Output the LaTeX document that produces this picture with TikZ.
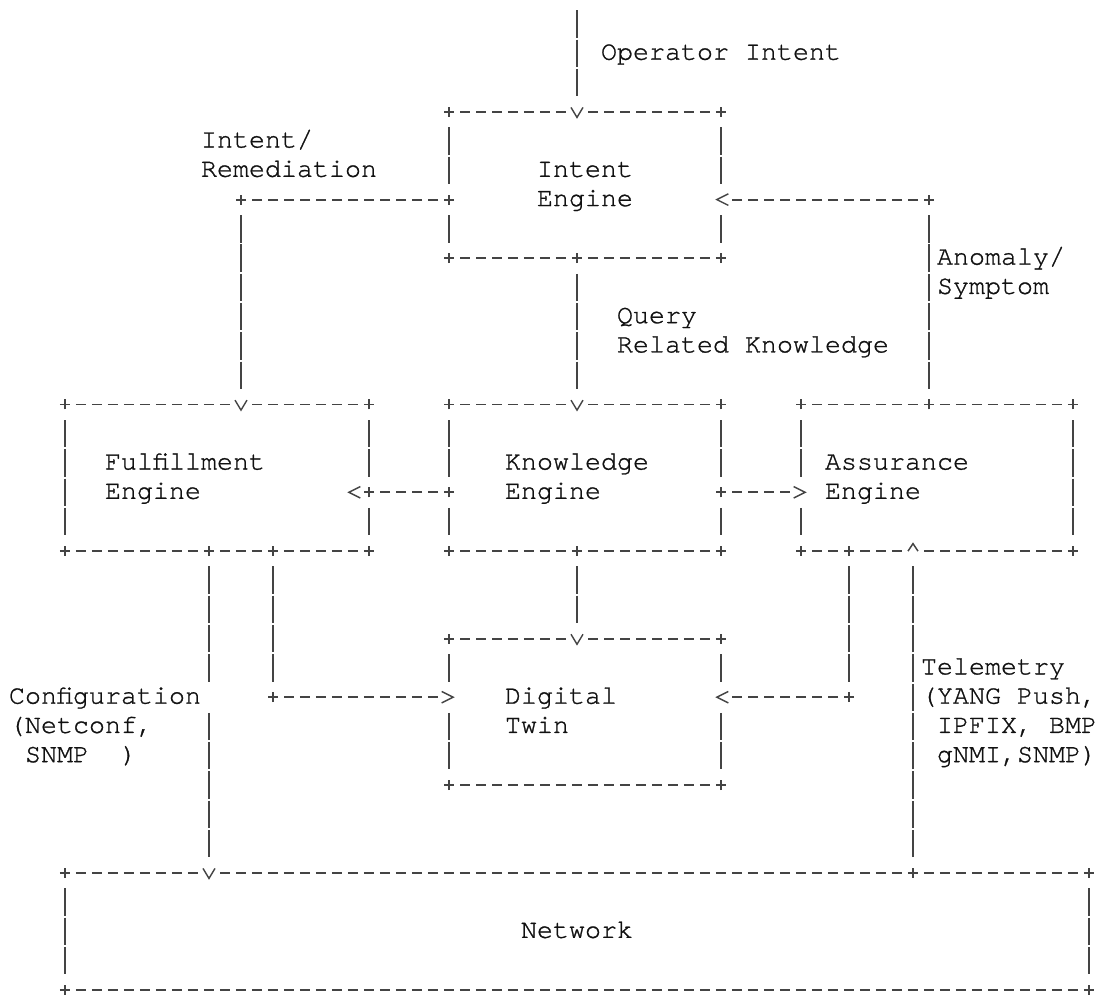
\documentclass[tikz,border=0pt]{standalone}
\usepackage{fontspec}
\newfontfamily\cursorfont{texgyrecursor-regular.otf}[FakeBold=1]
\usetikzlibrary{arrows.meta, calc, decorations.markings}
\setlength{\parindent}{0pt}

\definecolor{ink}{HTML}{444444}
\definecolor{txt}{HTML}{111111}
\newcommand{\diafont}{\cursorfont\fontsize{15.175pt}{16.655pt}\selectfont\frenchspacing}
\newcommand{\rs}{\rule[-4.6pt]{0pt}{16.6pt}}
\newlength{\cellw}
\setlength{\cellw}{0.32cm}

\tikzset{
  every node/.style={font=\diafont, text=txt, inner sep=0pt, outer sep=0pt},
  engine/.style={minimum height=5*0.5854cm, align=left},
  lbl/.style={anchor=north west, align=left},
  junct/.pic={\draw[ink] (0,-0.1cm) -- (0,0.1cm);},
  hseg/.style={draw=ink, dash pattern=on 0.2cm off 0.12cm},
  hrun/.style={hseg, shorten <=-0.1cm, shorten >=-0.1cm},
  vrun/.style={draw=ink, dash pattern=on 0.546cm off 0.0394cm,
    shorten <=0.3124cm, shorten >=0.3124cm},
  tiph/.style={postaction={decorate, solid, decoration={markings,
    mark=at position 0.99999 with {\pgftransformxshift{#1}
      \arrow{Straight Barb[length=0.23cm, width=0.23cm, line width=0.8pt]}}}}},
  tiph/.default=0.115cm,
  tipv/.style={postaction={decorate, solid, decoration={markings,
    mark=at position 0.99999 with {\pgftransformxshift{0.14cm}
      \arrow{Straight Barb[length=0.2cm, width=0.24cm, line width=0.8pt]}}}}},
  tipu/.style={postaction={decorate, solid, decoration={markings,
    mark=at position 0.99999 with {\pgftransformxshift{0.17cm}
      \arrow{Straight Barb[length=0.15cm, width=0.2cm, line width=0.8pt]}}}}},
  harr/.style={hrun, shorten >=0.22cm, tiph},
  varr/.style={vrun, tipv},
  uarr/.style={vrun, tipu},
}

\begin{document}
\begin{tikzpicture}[x=0.32cm, y=-0.5854cm, line width=1.1pt]
\useasboundingbox[fill=white] (-1.0625,-0.82) rectangle (67.6875,33.243);

% ENGINES
\node[engine, minimum width=17\cellw, text width=6\cellw, inner xsep=5.5\cellw]
  (intent) at (35.5,5.5) {\rs Intent\\\rs Engine};
\node[engine, minimum width=19\cellw, text width=14\cellw, inner xsep=2.5\cellw]
  (fulfil) at (12.5,15.5) {\rs Fulfillment\\\rs Engine};
\node[engine, minimum width=17\cellw, text width=10\cellw, inner xsep=3.5\cellw]
  (know) at (35.5,15.5) {\rs Knowledge\\\rs Engine};
\node[engine, minimum width=17\cellw, text width=14\cellw, inner xsep=1.5\cellw]
  (assure) at (57.5,15.5) {\rs Assurance\\\rs Engine};
\node[engine, minimum width=17\cellw, text width=10\cellw, inner xsep=3.5\cellw]
  (twin) at (35.5,23.5) {\rs Digital\\\rs Twin};
\node[engine, minimum height=4*0.5854cm, minimum width=64\cellw, text width=7\cellw,
  inner xsep=28.5\cellw] (network) at (35,31) {\rs Network};

% LABELS
\node[lbl] (opintent) at (36.5,0.5) {\rs Operator Intent};
\node[lbl] (remed) at (11.5,3.5) {\rs Intent/\\\rs Remediation};
\node[lbl] (anomaly) at (57.5,7.5) {\rs Anomaly/\\\rs Symptom};
\node[lbl] (query) at (37.5,9.5) {\rs Query\\\rs Related Knowledge};
\node[lbl] (config) at (-0.5,22.5) {\rs Configuration};
\node[lbl] (proto) at (-0.5,23.5) {\rs (Netconf,\\\rs\hspace*{\cellw}SNMP\ \ )};
\node[lbl] (telemetry) at (56.5,21.5)
  {\rs Telemetry\\\rs (YANG Push,\\\rs\hspace*{\cellw}IPFIX, BMP\\\rs\hspace*{\cellw}gNMI,SNMP)};

% helper coordinates
\coordinate (intentV) at ($(intent.north)+(-0.5,0)$);
\coordinate (intentB) at ($(intent.south)+(-0.5,0)$);
\coordinate (intentL) at ($(intent.west)+(0,0.5)$);
\coordinate (intentR) at ($(intent.east)+(0,0.5)$);
\coordinate (fulfilV) at ($(fulfil.north)+(1.5,0)$);
\coordinate (fulfilR) at ($(fulfil.east)+(0,0.5)$);
\coordinate (fulfilB) at ($(fulfil.south)+(-0.5,0)$);
\coordinate (fulfilC) at ($(fulfil.south)+(3.5,0)$);
\coordinate (knowV) at ($(know.north)+(-0.5,0)$);
\coordinate (knowB) at ($(know.south)+(-0.5,0)$);
\coordinate (knowL) at ($(know.west)+(0,0.5)$);
\coordinate (knowR) at ($(know.east)+(0,0.5)$);
\coordinate (assureT) at ($(assure.north)+(-0.5,0)$);
\coordinate (assureL) at ($(assure.west)+(0,0.5)$);
\coordinate (assureA) at ($(assure.south)+(-1.5,0)$);
\coordinate (assureB) at ($(assure.south)+(-5.5,0)$);
\coordinate (twinV) at ($(twin.north)+(-0.5,0)$);
\coordinate (twinL) at ($(twin.west)+(0,-0.5)$);
\coordinate (twinR) at ($(twin.east)+(0,-0.5)$);
\coordinate (networkV) at ($(network.north)+(-23,0)$);
\coordinate (networkT) at ($(network.north)+(21,0)$);
\coordinate (opin) at (35,-1);

% FRAMES
\foreach \b in {intent,fulfil,know,twin,network}
  \draw[hrun] (\b.south west) -- (\b.south east);
\draw[hrun] (assure.north west) -- (assure.north east);
\foreach \b/\t in {intent/intentV,fulfil/fulfilV,know/knowV,twin/twinV,network/networkV} {
  \draw[hrun, shorten >=0.22cm] (\b.north west) -- (\t);
  \draw[hrun, shorten <=0.22cm] (\t) -- (\b.north east);
}
\draw[hrun, shorten >=0.22cm] (assure.south west) -- (assureA);
\draw[hrun, shorten <=0.22cm] (assureA) -- (assure.south east);
\foreach \p/\q in {intent.north west/intentL, intentL/intent.south west,
    intent.north east/intentR, intentR/intent.south east,
    fulfil.north west/fulfil.south west, fulfil.north east/fulfilR, fulfilR/fulfil.south east,
    know.north west/knowL, knowL/know.south west, know.north east/knowR, knowR/know.south east,
    assure.north west/assureL, assureL/assure.south west, assure.north east/assure.south east,
    twin.north west/twinL, twinL/twin.south west, twin.north east/twinR, twinR/twin.south east,
    network.north west/network.south west, network.north east/network.south east}
  \draw[vrun] (\p) -- (\q);
\foreach \b in {intent,fulfil,know,assure,twin,network}
  \foreach \a in {north west,north east,south west,south east}
    \pic at (\b.\a) {junct};

% CONNECTORS
\draw[varr] (opin) -- (intentV);
\draw[hrun] (intentL) -- (intentL -| fulfilV) coordinate (c1);
\draw[varr] (c1) -- (fulfilV);
\draw[varr] (intentB) -- (knowV);
\draw[vrun] (assureT) -- (assureT |- intentR) coordinate (c2);
\draw[harr] (c2) -- (intentR);
\draw[hrun, tiph=0.435cm] (knowL) -- (fulfilR);
\draw[harr] (knowR) -- (assureL);
\draw[varr] (knowB) -- (twinV);
\draw[vrun] (fulfilB) -- (fulfilB |- config.east) coordinate (c5);
\draw[varr] (c5) -- (networkV);
\draw[vrun] (fulfilC) -- (fulfilC |- twinL) coordinate (c3);
\draw[harr] (c3) -- (twinL);
\draw[vrun] (assureB) -- (assureB |- twinR) coordinate (c4);
\draw[harr] (c4) -- (twinR);
\draw[uarr] (networkT) -- (assureA);
\foreach \j in {intentL,fulfilR,knowL,knowR,c1,c2,c3,c4,intentB,assureT,knowB,fulfilB,fulfilC,assureB,networkT}
  \pic at (\j) {junct};

\end{tikzpicture}
\end{document}
